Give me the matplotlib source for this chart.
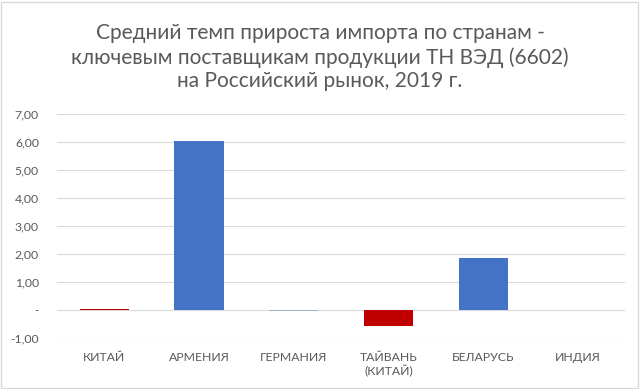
import matplotlib.pyplot as plt
from matplotlib.ticker import FuncFormatter
from matplotlib.patches import Rectangle

plt.rcParams['font.family'] = ['Lato', 'DejaVu Sans']

# data
countries = ["КИТАЙ", "АРМЕНИЯ", "ГЕРМАНИЯ", "ТАЙВАНЬ\n(КИТАЙ)", "БЕЛАРУСЬ", "ИНДИЯ"]
growth = [0.05, 6.03, -0.04, -0.56, 1.87, 0.0]
colors = ["#c00000", "#4472c4", "#a5b4cc", "#c00000", "#4472c4", "#4472c4"]

title = ("Средний темп прироста импорта по странам -\n"
         "ключевым поставщикам продукции ТН ВЭД (6602)\n"
         "на Российский рынок, 2019 г.")

fig = plt.figure(figsize=(6.4, 3.89), dpi=100)
ax = fig.add_axes([0.089, 0.131, 0.888, 0.576])

x = range(len(countries))
ax.bar(x, growth, width=0.52, color=colors, zorder=3)

ax.set_ylim(-1, 7)
ax.set_xlim(-0.5, len(countries) - 0.5)
ax.set_yticks(range(-1, 8))


def fmt(v, pos):
    if abs(v) < 1e-9:
        return "-"
    return f"{v:.2f}".replace(".", ",")


ax.yaxis.set_major_formatter(FuncFormatter(fmt))
ax.set_xticks(list(x))
ax.set_xticklabels(countries)
ax.grid(axis="y", color="#d9d9d9", linewidth=0.8, zorder=0)
for s in ax.spines.values():
    s.set_visible(False)
ax.tick_params(length=0, colors="#595959", labelsize=8.8)
ax.tick_params(axis="y", pad=13)
ax.tick_params(axis="x", pad=10)

fig.text(0.5, 0.94, title, ha="center", va="top", fontsize=15,
         color="#595959", linespacing=1.22)

fig.patches.append(Rectangle((0.002, 0.003), 0.995, 0.993, transform=fig.transFigure,
                             fill=False, edgecolor="#d9d9d9", linewidth=1))

fig.savefig("out.png", dpi=100)
